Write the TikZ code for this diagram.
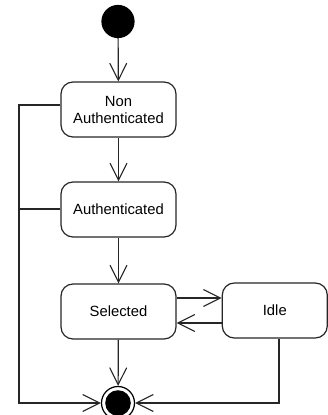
\documentclass[tikz,border=0pt]{standalone}
\usepackage{fontspec}
\setmainfont{Liberation Sans}
\usetikzlibrary{arrows.meta,calc}
\begin{document}
\begin{tikzpicture}[x=1pt,y=-1pt,
  line width=1.2pt, draw=black!85,
  state/.style={draw=black!85, rectangle, rounded corners=12pt, minimum width=115pt, minimum height=55pt, inner sep=0pt, align=center, font=\fontsize{14.8pt}{17pt}\selectfont},
  arr/.style={-{Straight Barb[length=17pt,width=17pt,line width=1.1pt]}},
  initst/.style={circle, fill=black, draw=black, minimum size=32pt, inner sep=0pt},
  finalst/.style={circle, draw=black, minimum size=33pt, inner sep=0pt, path picture={\fill[black] (path picture bounding box.center) circle (12.8pt);}}
]
\useasboundingbox (0,0) rectangle (328,415);
\node[initst] (start) at (118,21.5) {};
\node[state] (na) at (118.5,109.5) {Non\\Authenticated};
\node[state] (au) at (118.5,209.5) {Authenticated};
\node[state] (se) at (118.5,311.5) {Selected};
\node[state, minimum width=105pt] (id) at (274.8,310.5) {Idle};
\node[finalst] (fin) at (118,403) {};
\coordinate (lc) at (19,403);
\coordinate (rc) at (279,403);
\coordinate (ya) at (0,298);
\coordinate (yb) at (0,323);
\coordinate (yn) at (0,105);
\coordinate (ym) at (0,209);
\draw[arr] (start) -- (na);
\draw[arr] (na) -- (au);
\draw[arr] (au) -- (se);
\draw[arr] (se) -- (fin);
\draw[arr] (se.east |- ya) -- (id.west |- ya);
\draw[arr] (id.west |- yb) -- (se.east |- yb);
\draw[arr] (na.west |- yn) -| (lc) -- (fin);
\draw (au.west |- ym) -- (lc |- ym);
\draw[arr] (id.south -| rc) -- (rc) -- (fin);
\end{tikzpicture}
\end{document}
